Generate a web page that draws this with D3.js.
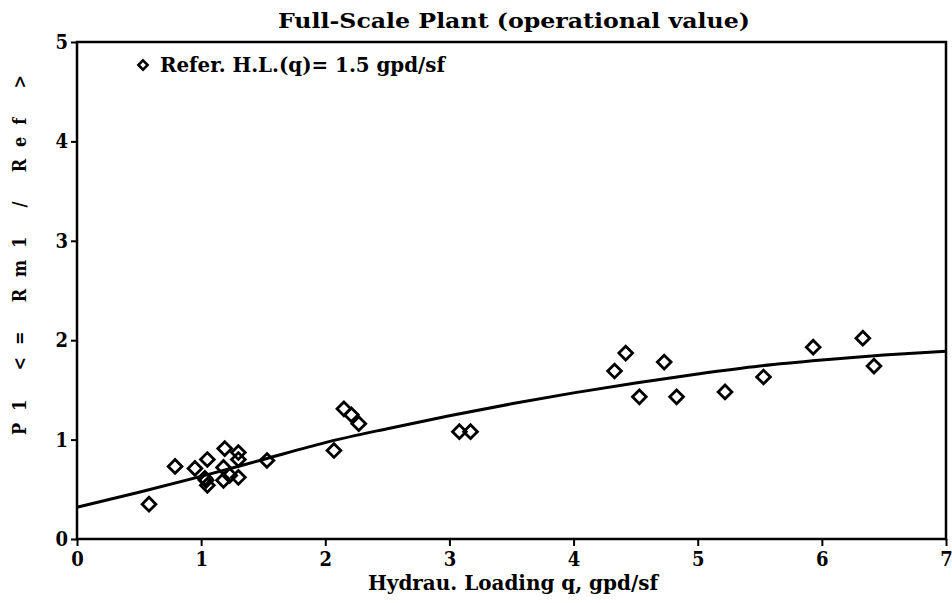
<!DOCTYPE html>
<html>
<head>
<meta charset="utf-8">
<script src="https://cdn.jsdelivr.net/npm/d3@7"></script>
<style>
  body { margin: 0; background: #fff; }
  text { font-family: "DejaVu Serif Condensed", "DejaVu Serif", serif; font-weight: bold; fill: #000; }
</style>
</head>
<body>
<div id="chart"></div>
<script>
// Measured points (hydraulic loading q vs ratio)
const qVals = [0.58, 0.79, 0.95, 1.03, 1.04, 1.05, 1.05, 1.18, 1.18, 1.19, 1.23, 1.30, 1.30, 1.30, 1.53,
               2.07, 2.15, 2.21, 2.27, 3.08, 3.17,
               4.33, 4.42, 4.53, 4.73, 4.83, 5.22, 5.53, 5.93, 6.33, 6.42];
const ratioVals = [0.35, 0.73, 0.71, 0.61, 0.59, 0.54, 0.80, 0.72, 0.59, 0.91, 0.64, 0.62, 0.80, 0.87, 0.79,
                   0.89, 1.31, 1.25, 1.16, 1.08, 1.08,
                   1.69, 1.87, 1.43, 1.78, 1.43, 1.48, 1.63, 1.93, 2.02, 1.74];

// Fitted curve
const curveQ = [0, 0.5, 1, 1.5, 2, 2.5, 3, 3.5, 4, 4.5, 5, 5.5, 6, 6.5, 7];
const curveRatio = [0.32, 0.47, 0.63, 0.80, 0.97, 1.11, 1.24, 1.36, 1.47, 1.57, 1.66, 1.74, 1.80, 1.85, 1.89];

const xTicks = [0, 1, 2, 3, 4, 5, 6, 7];
const yTicks = [0, 1, 2, 3, 4, 5];

const width = 952, height = 603;
const plotLeft = 77, plotRight = 946, plotTop = 42, plotBottom = 539;

const svg = d3.select("#chart").append("svg")
  .attr("width", width).attr("height", height);

const x = d3.scaleLinear().domain([0, 7]).range([plotLeft, plotRight]);
const y = d3.scaleLinear().domain([0, 5]).range([plotBottom, plotTop]);

// frame
svg.append("rect")
  .attr("x", plotLeft).attr("y", plotTop)
  .attr("width", plotRight - plotLeft).attr("height", plotBottom - plotTop)
  .attr("fill", "none").attr("stroke", "#000").attr("stroke-width", 2.5);

// axes
const xAx = svg.append("g")
  .attr("transform", "translate(0," + plotBottom + ")")
  .call(d3.axisBottom(x).tickValues(xTicks).tickSize(7).tickPadding(6).tickFormat(d3.format("d")));
const yAx = svg.append("g")
  .attr("transform", "translate(" + plotLeft + ",0)")
  .call(d3.axisLeft(y).tickValues(yTicks).tickSize(6).tickPadding(3).tickFormat(d3.format("d")));

[xAx, yAx].forEach(g => {
  g.select(".domain").remove();
  g.selectAll("line").attr("stroke", "#000").attr("stroke-width", 2);
  g.selectAll("text").style("font-size", "20px")
    .style("font-family", "'DejaVu Serif Condensed', serif").style("font-weight", "bold");
});

// fitted curve
const curveData = curveQ.map((q, i) => [q, curveRatio[i]]);
svg.append("path")
  .datum(curveData)
  .attr("fill", "none").attr("stroke", "#000").attr("stroke-width", 3)
  .attr("d", d3.line().x(d => x(d[0])).y(d => y(d[1])).curve(d3.curveMonotoneX));

// diamonds
const diamond = d3.symbol().type(d3.symbolDiamond2).size(120);
const pts = qVals.map((q, i) => [q, ratioVals[i]]);
svg.selectAll("path.pt")
  .data(pts).enter()
  .append("path")
  .attr("class", "pt")
  .attr("d", diamond)
  .attr("transform", d => "translate(" + x(d[0]) + "," + y(d[1]) + ")")
  .attr("fill", "none").attr("stroke", "#000").attr("stroke-width", 2.8);

// legend
svg.append("path")
  .attr("d", d3.symbol().type(d3.symbolDiamond2).size(55))
  .attr("transform", "translate(143,65)")
  .attr("fill", "none").attr("stroke", "#000").attr("stroke-width", 2.5);
svg.append("text")
  .attr("x", 160).attr("y", 72)
  .attr("textLength", 285).attr("lengthAdjust", "spacingAndGlyphs")
  .style("font-size", "20px")
  .text("Refer. H.L.(q)= 1.5 gpd/sf");

// title
svg.append("text")
  .attr("x", 278).attr("y", 28)
  .attr("textLength", 472).attr("lengthAdjust", "spacingAndGlyphs")
  .style("font-size", "21px")
  .text("Full-Scale Plant (operational value)");

// x label
svg.append("text")
  .attr("x", 368).attr("y", 590)
  .attr("textLength", 290).attr("lengthAdjust", "spacingAndGlyphs")
  .style("font-size", "20px")
  .text("Hydrau. Loading q, gpd/sf");

// y label
svg.append("text")
  .attr("transform", "translate(26,255) rotate(-90)")
  .attr("text-anchor", "middle")
  .attr("textLength", 360).attr("lengthAdjust", "spacing")
  .style("font-size", "18px")
  .text("P1 <= Rm1 / Ref >");
</script>
</body>
</html>
